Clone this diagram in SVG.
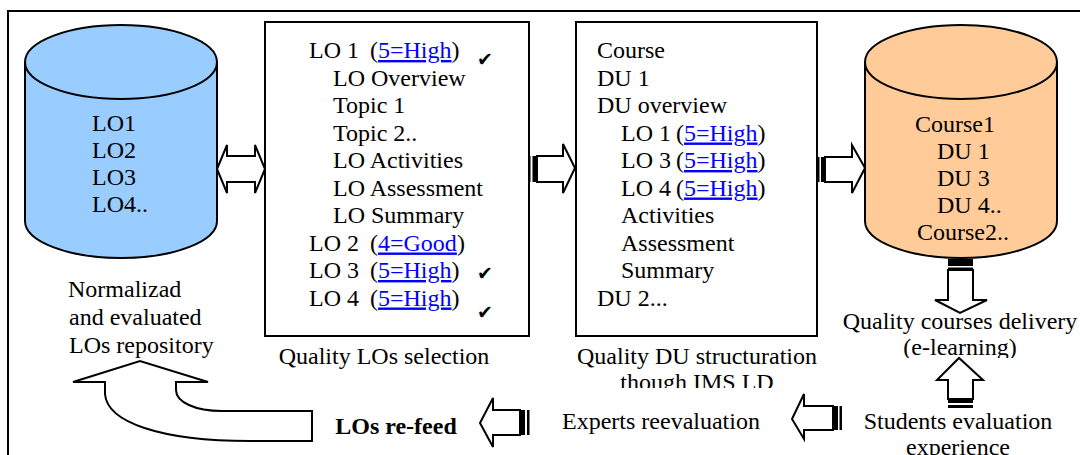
<svg xmlns="http://www.w3.org/2000/svg" width="1080" height="455" viewBox="0 0 1080 455">
<style>
text{font-family:"Liberation Serif","Times New Roman",serif;font-size:24px;fill:#000}
.lk{fill:#0000FF;text-decoration:underline}
.b{font-weight:bold}
.ck{font-family:"DejaVu Sans",sans-serif;font-size:19px}
.ol{fill:#fff;stroke:#000;stroke-width:2;stroke-linejoin:miter}
.bar{fill:#000}
.box{fill:#fff;stroke:#000;stroke-width:2}
.cyl{stroke:#000;stroke-width:2}
</style>
<defs>
<clipPath id="c1"><rect x="560" y="340" width="300" height="48"/></clipPath>
<clipPath id="c2"><rect x="830" y="300" width="250" height="58"/></clipPath>
</defs>
<rect x="8" y="11" width="1090" height="460" fill="none" stroke="#000" stroke-width="2"/>

<g id="repo">
<path class="cyl" fill="#99CCFF" d="M25,62 L25,221 A96,37 0 0 0 217,221 L217,62"/>
<ellipse class="cyl" fill="#99CCFF" cx="121" cy="62" rx="96" ry="37"/>
<text x="92" y="131">LO1</text>
<text x="92" y="158">LO2</text>
<text x="92" y="185">LO3</text>
<text x="92" y="212">LO4..</text>
<text x="68" y="297">Normalizad</text>
<text x="69" y="325">and evaluated</text>
<text x="69" y="353">LOs repository</text>
</g>

<g id="selection">
<rect class="box" x="265" y="22" width="264" height="314"/>
<text x="309" y="58">LO 1 <tspan x="370">(</tspan><tspan class="lk">5=High</tspan>)</text>
<text x="333" y="85.5">LO Overview</text>
<text x="333" y="113">Topic 1</text>
<text x="333" y="140.5">Topic 2..</text>
<text x="333" y="168">LO Activities</text>
<text x="333" y="195.5">LO Assessment</text>
<text x="333" y="223">LO Summary</text>
<text x="309" y="250.5">LO 2 <tspan x="370">(</tspan><tspan class="lk">4=Good</tspan>)</text>
<text x="309" y="278">LO 3 <tspan x="370">(</tspan><tspan class="lk">5=High</tspan>)</text>
<text x="309" y="305.5">LO 4 <tspan x="370">(</tspan><tspan class="lk">5=High</tspan>)</text>
<text class="ck" x="477" y="66">✔</text>
<text class="ck" x="477" y="280">✔</text>
<text class="ck" x="477" y="319">✔</text>
<text x="384" y="364" text-anchor="middle">Quality LOs selection</text>
</g>

<g id="structuration">
<rect class="box" x="576" y="22" width="241" height="314"/>
<text x="597" y="58">Course</text>
<text x="597" y="85.5">DU 1</text>
<text x="597" y="113">DU overview</text>
<text x="621" y="140.5">LO 1 <tspan x="676">(</tspan><tspan class="lk">5=High</tspan>)</text>
<text x="621" y="168">LO 3 <tspan x="676">(</tspan><tspan class="lk">5=High</tspan>)</text>
<text x="621" y="195.5">LO 4 <tspan x="676">(</tspan><tspan class="lk">5=High</tspan>)</text>
<text x="621" y="223">Activities</text>
<text x="621" y="250.5">Assessment</text>
<text x="621" y="278">Summary</text>
<text x="597" y="305.5">DU 2...</text>
<text x="697" y="364" text-anchor="middle">Quality DU structuration</text>
<text x="697" y="390" text-anchor="middle" clip-path="url(#c1)">though IMS LD</text>
</g>

<g id="courses">
<path class="cyl" fill="#FFCC99" d="M865,62 L865,221 A96,37 0 0 0 1057,221 L1057,62"/>
<ellipse class="cyl" fill="#FFCC99" cx="961" cy="62" rx="96" ry="37"/>
<text x="915" y="132">Course1</text>
<text x="937" y="159">DU 1</text>
<text x="937" y="186">DU 3</text>
<text x="937" y="213">DU 4..</text>
<text x="917" y="240">Course2..</text>
</g>

<g id="delivery">
<text x="960" y="329" text-anchor="middle">Quality courses delivery</text>
<text x="960" y="355" text-anchor="middle" clip-path="url(#c2)">(e-learning)</text>
</g>

<g id="students">
<text x="958" y="429" text-anchor="middle">Students evaluation</text>
<text x="958" y="455" text-anchor="middle">experience</text>
</g>

<g id="experts">
<text x="661" y="429" text-anchor="middle">Experts reevaluation</text>
</g>

<g id="refeed">
<text class="b" x="396" y="434" text-anchor="middle">LOs re-feed</text>
</g>

<g id="connectors">
<path class="ol" d="M217,169 L227,145 L227,156 L255,156 L255,145 L265,169 L255,193 L255,182 L227,182 L227,193 Z"/>
<path class="ol" d="M537,156 L563,156 L563,144 L575,168 L563,193 L563,182 L537,182 Z"/>
<rect class="bar" x="528" y="156" width="2.5" height="26"/>
<rect class="bar" x="532.5" y="156" width="4.5" height="26"/>
<path class="ol" d="M825,157 L852,157 L852,145 L865,168 L852,193 L852,182 L825,182 Z"/>
<rect class="bar" x="817" y="157" width="2.5" height="25"/>
<rect class="bar" x="821" y="157" width="4.5" height="25"/>
<path class="ol" d="M948,270 L948,300 L935,300 L960,313 L987,300 L973,300 L973,270 Z"/>
<rect class="bar" x="948" y="259" width="25" height="7"/>
<rect class="bar" x="948" y="267.5" width="25" height="2.5"/>
<path class="ol" d="M948,399 L948,380 L937,380 L959,358 L983,380 L973,380 L973,399 Z"/>
<rect class="bar" x="948" y="399" width="25" height="4"/>
<rect class="bar" x="948" y="405" width="25" height="3"/>
<path class="ol" d="M833,406 L804,406 L804,394 L792,419 L804,439 L804,430 L833,430 Z"/>
<rect class="bar" x="833" y="406" width="5" height="24"/>
<rect class="bar" x="839.5" y="406" width="2.5" height="24"/>
<path class="ol" d="M520,410 L493,410 L493,398 L480,423 L493,447 L493,435 L520,435 Z"/>
<rect class="bar" x="520" y="410" width="5" height="25"/>
<rect class="bar" x="527" y="410" width="2.5" height="25"/>
<path class="ol" d="M105,382 L105,394 C107,422 160,441 250,441 L312,441 L312,411 L222,411 C195,411 176,402 176,390 L176,382 L208,382 L140,361 L73,382 Z"/>
</g>
</svg>
